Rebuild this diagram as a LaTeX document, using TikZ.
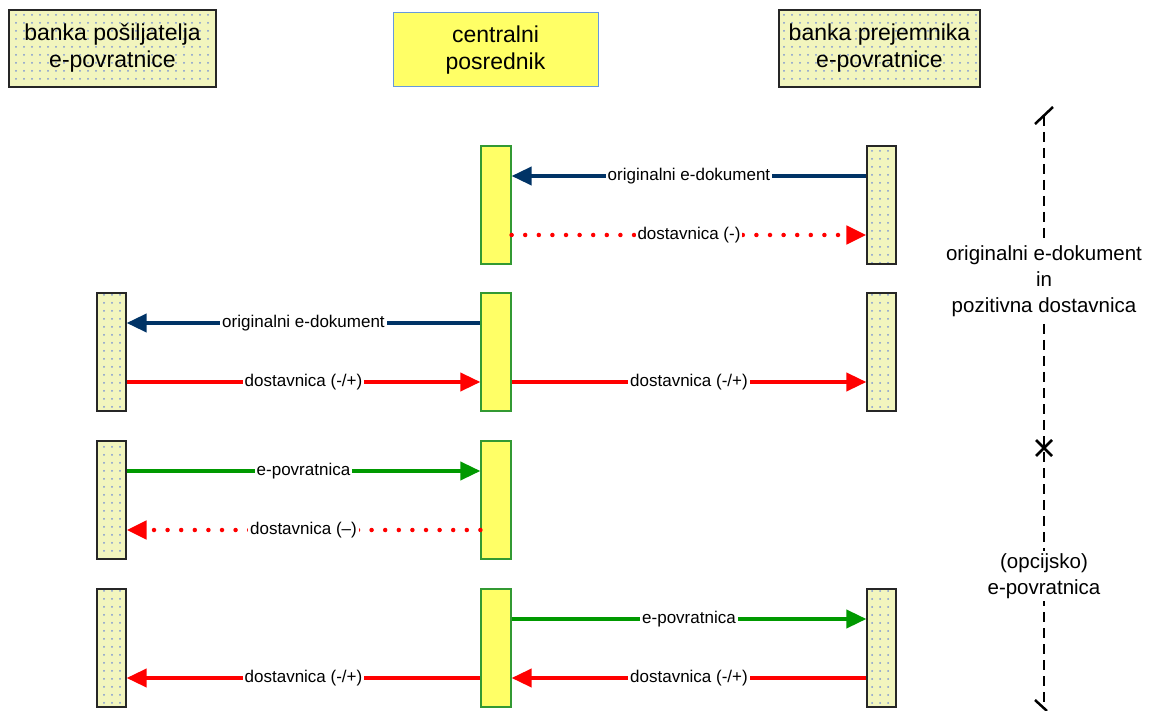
\documentclass[tikz,border=0pt]{standalone}
\usepackage{fontspec}
\setmainfont{Liberation Sans}
\usetikzlibrary{arrows.meta,patterns.meta}

\definecolor{bankfill}{RGB}{242,245,190}
\definecolor{dotblue}{RGB}{125,150,210}
\definecolor{hubfill}{RGB}{255,255,102}
\definecolor{hubline}{RGB}{102,153,221}
\definecolor{barline}{RGB}{51,153,51}
\definecolor{docblue}{RGB}{0,51,102}
\definecolor{ackred}{RGB}{255,0,0}
\definecolor{retgreen}{RGB}{0,153,0}

\newcommand{\headfont}{\fontsize{23}{27}\selectfont}
\newcommand{\msgfont}{\fontsize{17}{20}\selectfont}
\newcommand{\phasefont}{\fontsize{20.5}{26}\selectfont}

\begin{document}
\begin{tikzpicture}
  [x=1pt, y=-1pt,
   bank node/.style={draw=black!85, line width=1.2pt, preaction={fill=bankfill},
     pattern={Dots[distance=8pt,radius=1pt]}, pattern color=dotblue,
     align=center, font=\headfont, inner sep=0pt},
   hub node/.style={draw=hubline, line width=1pt, fill=hubfill,
     align=center, font=\headfont, inner sep=0pt},
   bank bar/.style={bank node, minimum width=29pt, minimum height=118pt},
   hub bar/.style={draw=barline, line width=1.2pt, fill=hubfill,
     minimum width=30pt, minimum height=118pt, inner sep=0pt},
   msg/.style={line width=3.8pt, -{Triangle[length=20pt,width=18pt]}},
   doc msg/.style={msg, docblue},
   ack msg/.style={msg, ackred},
   nack msg/.style={msg, ackred, line width=4.5pt, line cap=round,
     dash pattern=on 0pt off 13.6pt},
   ret msg/.style={msg, retgreen},
   msg label/.style={fill=white, text=black, inner sep=2pt, font=\msgfont},
   phase label/.style={fill=white, align=center, inner sep=2pt, font=\phasefont}]
  \useasboundingbox (0,0) rectangle (1149,711);

  % udelezenci
  \node[bank node, minimum width=207pt, minimum height=77pt] (sender) at (112.5,48.5)
    {banka pošiljatelja\\e-povratnice};
  \node[hub node, minimum width=205pt, minimum height=74pt] (hub) at (495.5,50)
    {centralni\\posrednik};
  \node[bank node, minimum width=201pt, minimum height=77pt] (receiver) at (879.5,48.5)
    {banka prejemnika\\e-povratnice};

  % aktivacije
  \node[hub bar] (c1) at (496,205) {};
  \node[bank bar] (r1) at (881.5,205) {};
  \node[bank bar] (l2) at (111.5,352) {};
  \node[hub bar] (c2) at (496,352) {};
  \node[bank bar] (r2) at (881.5,352) {};
  \node[bank bar] (l3) at (111.5,500) {};
  \node[hub bar] (c3) at (496,500) {};
  \node[bank bar] (l4) at (111.5,648) {};
  \node[hub bar] (c4) at (496,648) {};
  \node[bank bar] (r4) at (881.5,648) {};

  % sporocila
  \path ([yshift=29pt]r1.west) [doc msg] edge node [msg label] {originalni e-dokument} ([yshift=29pt]c1.east);
  \path ([yshift=-30pt]c1.east) [nack msg] edge node [msg label] {dostavnica (-)} ([yshift=-30pt]r1.west);

  \path ([yshift=29pt]c2.west) [doc msg] edge node [msg label] {originalni e-dokument} ([yshift=29pt]l2.east);
  \path ([yshift=-30pt]l2.east) [ack msg] edge node [msg label] {dostavnica (-/+)} ([yshift=-30pt]c2.west);
  \path ([yshift=-30pt]c2.east) [ack msg] edge node [msg label] {dostavnica (-/+)} ([yshift=-30pt]r2.west);

  \path ([yshift=29pt]l3.east) [ret msg] edge node [msg label] {e-povratnica} ([yshift=29pt]c3.west);
  \path ([yshift=-30pt]c3.west) [nack msg] edge node [msg label] {dostavnica (–)} ([yshift=-30pt]l3.east);

  \path ([yshift=29pt]c4.east) [ret msg] edge node [msg label] {e-povratnica} ([yshift=29pt]r4.west);
  \path ([yshift=-30pt]r4.west) [ack msg] edge node [msg label] {dostavnica (-/+)} ([yshift=-30pt]c4.east);
  \path ([yshift=-30pt]c4.west) [ack msg] edge node [msg label] {dostavnica (-/+)} ([yshift=-30pt]l4.east);

  % casovnica
  \coordinate (t0) at (1044,116);
  \coordinate (t1) at (1044,448);
  \coordinate (t2) at (1044,705);
  \draw[line width=2.5pt, dash pattern=on 10pt off 6pt] (t0) -- (t2);
  \draw[line width=2.5pt] ([shift={(-9,8)}]t0) -- ([shift={(9,-9)}]t0);
  \draw[line width=2.5pt] ([shift={(-8,-8)}]t1) -- ([shift={(8,8)}]t1)
    ([shift={(-8,8)}]t1) -- ([shift={(8,-8)}]t1);
  \draw[line width=2.5pt] ([shift={(-9,-5)}]t2) -- ([shift={(3,6)}]t2);
  \node[phase label] (ph1) at (1044,281) {originalni e-dokument\\in\\pozitivna dostavnica};
  \node[phase label] (ph2) at (1044,576) {(opcijsko)\\e-povratnica};
\end{tikzpicture}
\end{document}
